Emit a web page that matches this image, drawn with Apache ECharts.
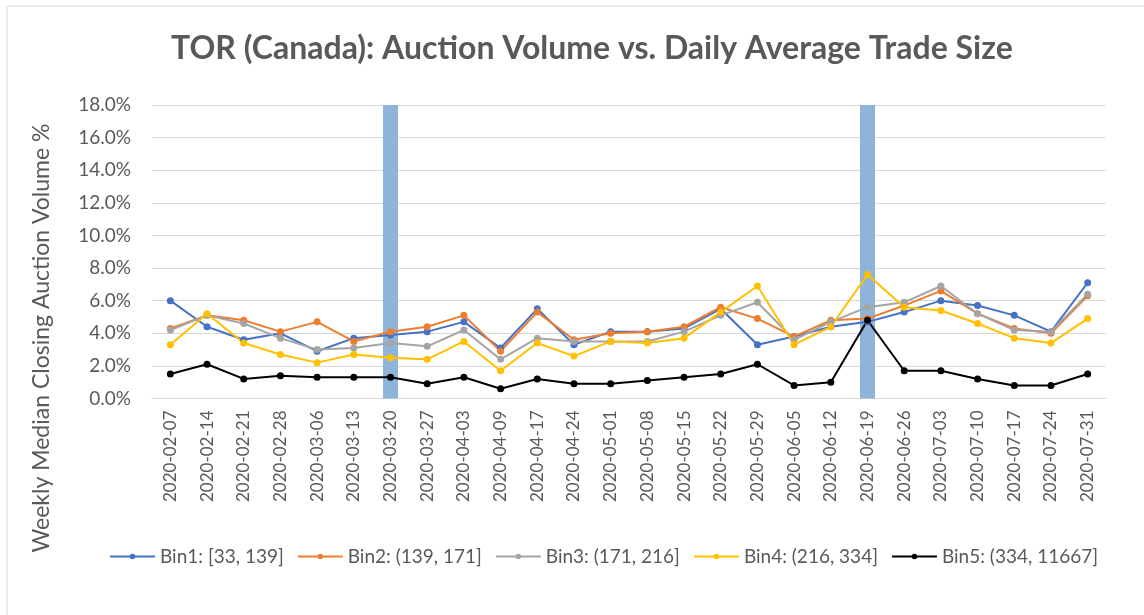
<!DOCTYPE html>
<html>
<head>
<meta charset="utf-8">
<script src="https://cdn.jsdelivr.net/npm/echarts@6/dist/echarts.min.js"></script>
<style>
  html, body { margin: 0; padding: 0; background: #fff; }
  #chart { width: 1144px; height: 615px; }
</style>
</head>
<body>
<div id="chart"></div>
<script>
// Week-ending dates
const weeks = ['2020-02-07','2020-02-14','2020-02-21','2020-02-28','2020-03-06','2020-03-13','2020-03-20',
  '2020-03-27','2020-04-03','2020-04-09','2020-04-17','2020-04-24','2020-05-01','2020-05-08','2020-05-15',
  '2020-05-22','2020-05-29','2020-06-05','2020-06-12','2020-06-19','2020-06-26','2020-07-03','2020-07-10',
  '2020-07-17','2020-07-24','2020-07-31'];

// Weekly median closing auction volume (%), by daily average trade size bin
const bin1 = [6.0, 4.4, 3.6, 4.0, 2.9, 3.7, 3.9, 4.1, 4.7, 3.1, 5.5, 3.3, 4.1, 4.1, 4.3, 5.5, 3.3, 3.8, 4.4, 4.7, 5.3, 6.0, 5.7, 5.1, 4.1, 7.1];
const bin2 = [4.3, 5.1, 4.8, 4.1, 4.7, 3.5, 4.1, 4.4, 5.1, 2.9, 5.3, 3.6, 4.0, 4.1, 4.4, 5.6, 4.9, 3.8, 4.8, 4.9, 5.7, 6.6, 5.2, 4.3, 4.0, 6.3];
const bin3 = [4.2, 5.1, 4.6, 3.7, 3.0, 3.1, 3.4, 3.2, 4.2, 2.4, 3.7, 3.5, 3.5, 3.5, 4.1, 5.1, 5.9, 3.6, 4.7, 5.6, 5.9, 6.9, 5.2, 4.2, 4.1, 6.4];
const bin4 = [3.3, 5.2, 3.4, 2.7, 2.2, 2.7, 2.5, 2.4, 3.5, 1.7, 3.4, 2.6, 3.5, 3.4, 3.7, 5.3, 6.9, 3.3, 4.4, 7.6, 5.6, 5.4, 4.6, 3.7, 3.4, 4.9];
const bin5 = [1.5, 2.1, 1.2, 1.4, 1.3, 1.3, 1.3, 0.9, 1.3, 0.6, 1.2, 0.9, 0.9, 1.1, 1.3, 1.5, 2.1, 0.8, 1.0, 4.8, 1.7, 1.7, 1.2, 0.8, 0.8, 1.5];

const binNames = ['Bin1: [33, 139]', 'Bin2: (139, 171]', 'Bin3: (171, 216]', 'Bin4: (216, 334]', 'Bin5: (334, 11667]'];
const binColors = ['#4472C4', '#ED7D31', '#A5A5A5', '#FFC000', '#000000'];

// Highlighted weeks, shaded full height
const highlightWeeks = ['2020-03-20', '2020-06-19'];
const highlightLevel = 18;

// Y axis ticks (%)
const yMin = 0, yMax = 18, yStep = 2;

const titleText = 'TOR (Canada): Auction Volume vs. Daily Average Trade Size';
const yAxisTitle = 'Weekly Median Closing Auction Volume %';

const textColor = '#595959';
const fontFamily = 'Lato, "Noto Sans", sans-serif';

const binSeries = [bin1, bin2, bin3, bin4, bin5].map((vals, i) => ({
  name: binNames[i],
  type: 'line',
  data: vals,
  color: binColors[i],
  symbol: 'circle',
  symbolSize: 7,
  lineStyle: { width: 2, color: binColors[i] },
  itemStyle: { color: binColors[i] },
  z: 3
}));

const highlightSeries = {
  name: 'highlight',
  type: 'bar',
  data: weeks.map(w => highlightWeeks.includes(w) ? highlightLevel : null),
  barWidth: 15,
  itemStyle: { color: '#8EB4DA' },
  z: 1,
  silent: true
};

const chart = echarts.init(document.getElementById('chart'), null, { renderer: 'canvas' });
chart.setOption({
  animation: false,
  backgroundColor: '#fff',
  textStyle: { fontFamily: fontFamily, color: textColor },
  title: {
    text: titleText,
    left: 166,
    top: 28,
    textStyle: { fontFamily: fontFamily, fontSize: 32, fontWeight: 'bold', color: textColor }
  },
  graphic: [{
    type: 'rect',
    shape: { x: 7, y: 6, width: 1300, height: 800 },
    style: { fill: 'none', stroke: '#D9D9D9', lineWidth: 1 },
    silent: true,
    z: -10
  }, {
    // vertical axis title, centred on the plot plus its date labels
    type: 'text',
    x: 42,
    y: 338,
    rotation: Math.PI / 2,
    style: {
      text: yAxisTitle,
      fontFamily: fontFamily,
      fontSize: 23,
      fill: textColor,
      align: 'center',
      verticalAlign: 'middle'
    },
    silent: true
  }],
  grid: { left: 152, right: 38, top: 105, bottom: 216.5, containLabel: false },
  legend: {
    data: binNames,
    bottom: 44,
    left: 104,
    itemWidth: 45,
    itemHeight: 7,
    itemGap: 13,
    textStyle: { fontFamily: fontFamily, fontSize: 19, color: textColor }
  },
  xAxis: {
    type: 'category',
    data: weeks,
    boundaryGap: true,
    axisLine: { lineStyle: { color: '#D9D9D9', width: 1 } },
    axisTick: { show: false },
    axisLabel: { rotate: 90, fontSize: 17, color: textColor, margin: 12, interval: 0 }
  },
  yAxis: {
    type: 'value',
    min: yMin,
    max: yMax,
    interval: yStep,
    axisLine: { show: false },
    axisTick: { show: false },
    splitLine: { lineStyle: { color: '#D9D9D9', width: 1 } },
    axisLabel: { fontSize: 19, color: textColor, margin: 21, formatter: v => v.toFixed(1) + '%' }
  },
  series: [highlightSeries].concat(binSeries)
});
</script>
</body>
</html>
